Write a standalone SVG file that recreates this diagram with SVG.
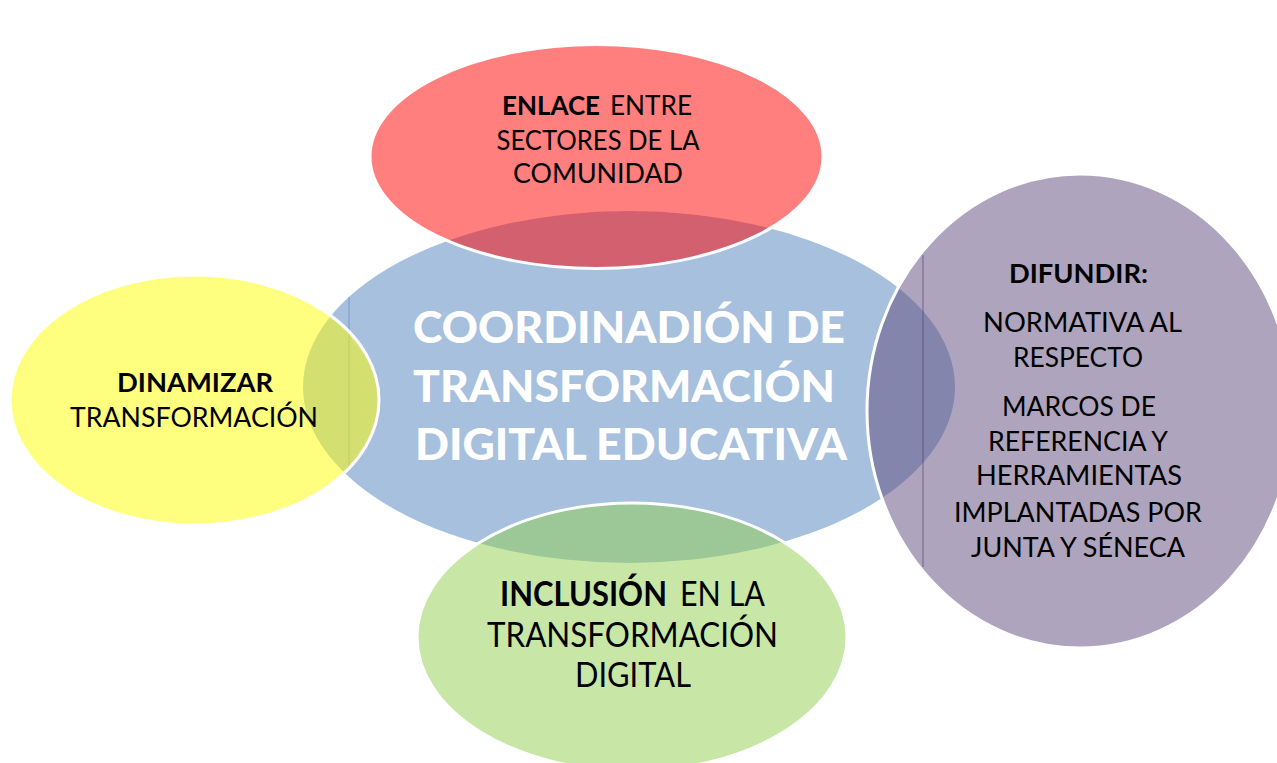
<svg xmlns="http://www.w3.org/2000/svg" width="1277" height="763" viewBox="0 0 1277 763">
<style>
.outer{stroke:#FFFFFF;stroke-width:3;fill-opacity:0.5}
.t{font-family:Lato,"Liberation Sans",sans-serif;fill:#000000;text-anchor:middle}
.l{font-family:Lato,"Liberation Sans",sans-serif;fill:#000000;text-anchor:start}
.b{font-weight:bold}
.c{font-family:Lato,"Liberation Sans",sans-serif;fill:#FFFFFF;font-weight:900;text-anchor:middle;font-size:44px}
.s{font-size:27px}
.g{font-size:34px}
</style>
<rect width="1277" height="763" fill="#FFFFFF"/>
<g id="center">
<ellipse cx="629" cy="387" rx="326" ry="176" fill="#4F81BD" fill-opacity="0.5"/>
</g>
<g id="lines">
<line x1="349" y1="297" x2="349" y2="468" stroke="#5B84BE" stroke-width="1" opacity="0.6"/>
<line x1="923" y1="255" x2="923" y2="567" stroke="#3E4676" stroke-width="1" opacity="0.7"/>
</g>
<g id="enlace">
<ellipse class="outer" cx="596.5" cy="156.5" rx="226.5" ry="112" fill="#FF0000"/>
<text class="l s b" x="502" y="115" textLength="98" lengthAdjust="spacingAndGlyphs">ENLACE</text>
<text class="l s" x="610" y="115" textLength="82" lengthAdjust="spacingAndGlyphs">ENTRE</text>
<text class="t s" x="598" y="150" textLength="203" lengthAdjust="spacingAndGlyphs">SECTORES DE LA</text>
<text class="t s" x="598" y="183" textLength="170" lengthAdjust="spacingAndGlyphs">COMUNIDAD</text>
</g>
<g id="dinamizar">
<ellipse class="outer" cx="194.5" cy="400" rx="184.5" ry="125" fill="#FFFF00"/>
<text class="t s b" x="195" y="392" textLength="156" lengthAdjust="spacingAndGlyphs">DINAMIZAR</text>
<text class="t s" x="194" y="427" textLength="248" lengthAdjust="spacingAndGlyphs">TRANSFORMACIÓN</text>
</g>
<g id="inclusion">
<ellipse class="outer" cx="632" cy="637" rx="215" ry="134" fill="#92D050"/>
<text class="l g b" x="500" y="606" textLength="167" lengthAdjust="spacingAndGlyphs">INCLUSIÓN</text>
<text class="l g" x="680" y="606" textLength="85" lengthAdjust="spacingAndGlyphs">EN LA</text>
<text class="t g" x="632.5" y="647" textLength="291" lengthAdjust="spacingAndGlyphs">TRANSFORMACIÓN</text>
<text class="t g" x="633" y="687" textLength="116" lengthAdjust="spacingAndGlyphs">DIGITAL</text>
</g>
<g id="difundir">
<ellipse class="outer" cx="1080" cy="411" rx="213" ry="237" fill="#604A7B"/>
<text class="t s b" x="1078.5" y="283" textLength="139" lengthAdjust="spacingAndGlyphs">DIFUNDIR:</text>
<text class="t s" x="1082.5" y="332" textLength="199" lengthAdjust="spacingAndGlyphs">NORMATIVA AL</text>
<text class="t s" x="1078" y="367" textLength="130" lengthAdjust="spacingAndGlyphs">RESPECTO</text>
<text class="t s" x="1079" y="416" textLength="154" lengthAdjust="spacingAndGlyphs">MARCOS DE</text>
<text class="t s" x="1078" y="451" textLength="180" lengthAdjust="spacingAndGlyphs">REFERENCIA Y</text>
<text class="t s" x="1079" y="485" textLength="206" lengthAdjust="spacingAndGlyphs">HERRAMIENTAS</text>
<text class="t s" x="1078" y="522" textLength="248" lengthAdjust="spacingAndGlyphs">IMPLANTADAS POR</text>
<text class="t s" x="1078" y="557" textLength="214" lengthAdjust="spacingAndGlyphs">JUNTA Y SÉNECA</text>
</g>
<g id="center-label">
<text class="c" x="629" y="343" textLength="432" lengthAdjust="spacingAndGlyphs">COORDINADIÓN DE</text>
<text class="c" x="624" y="402" textLength="422" lengthAdjust="spacingAndGlyphs">TRANSFORMACIÓN</text>
<text class="c" x="631" y="460" textLength="432" lengthAdjust="spacingAndGlyphs">DIGITAL EDUCATIVA</text>
</g>
</svg>
